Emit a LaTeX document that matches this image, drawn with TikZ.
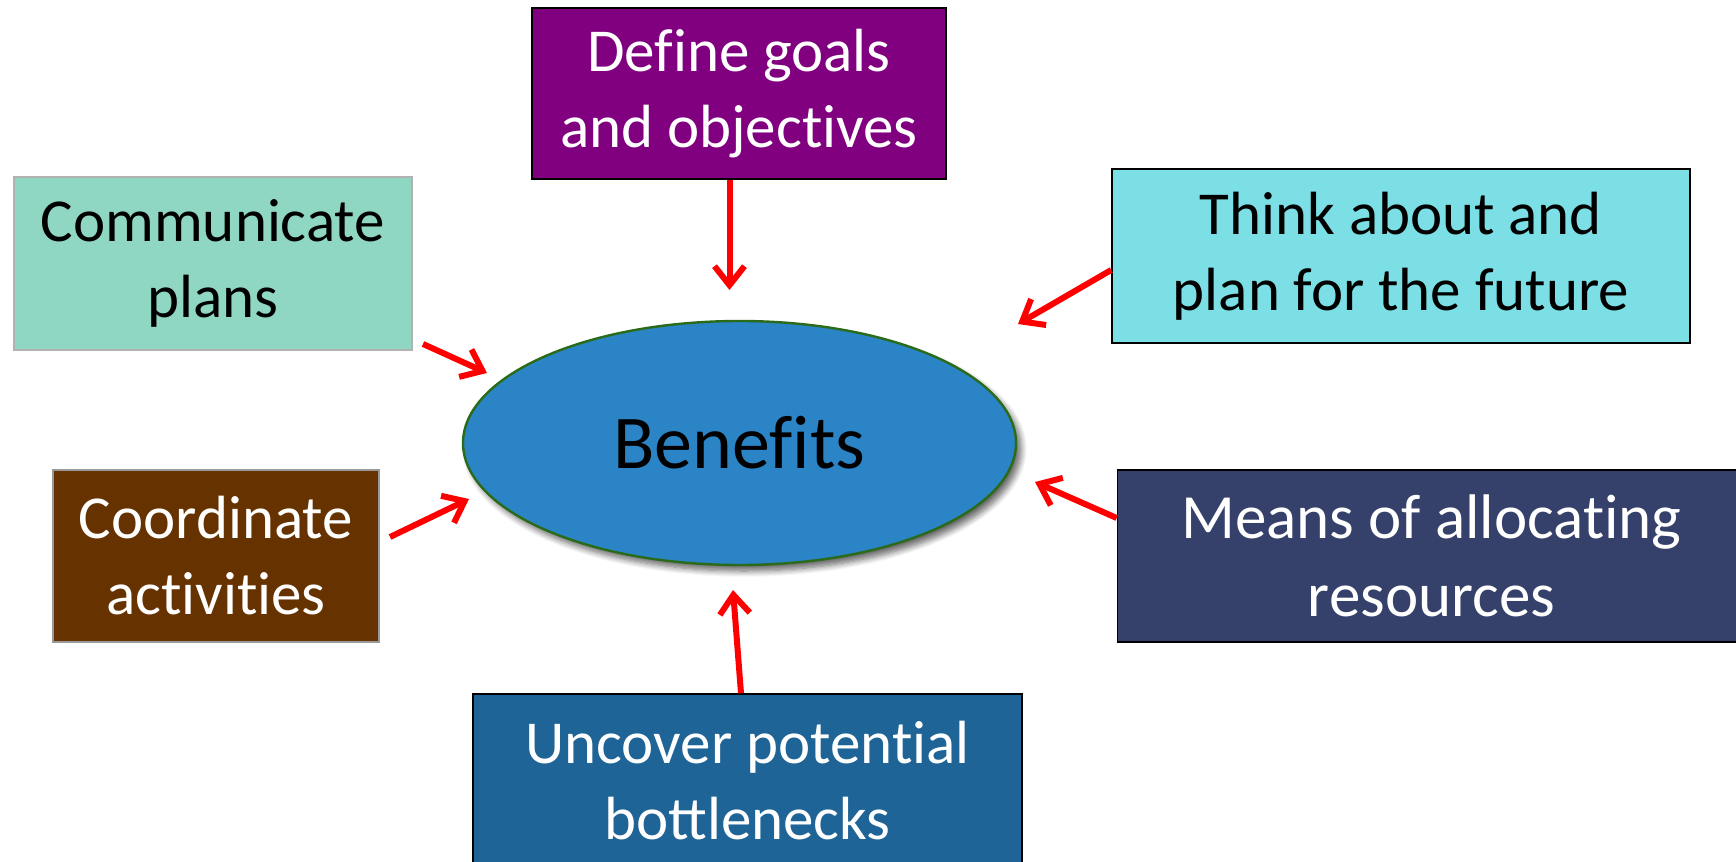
\documentclass[tikz,border=0pt]{standalone}
\usepackage{fontspec}
\setmainfont{Carlito}
\newcommand{\brk}{\kern0pt{}}
\usetikzlibrary{arrows.meta,shadows.blur,calc,shapes.geometric}
\definecolor{cpurple}{HTML}{800080}
\definecolor{cteal}{HTML}{8FD7C3}
\definecolor{ccyan}{HTML}{7BDFE5}
\definecolor{cbrown}{HTML}{663300}
\definecolor{cnavy}{HTML}{35416A}
\definecolor{cblue}{HTML}{1F6496}
\definecolor{cell}{HTML}{2A84C6}
\definecolor{cellb}{HTML}{2A6B1A}
\begin{document}
\begin{tikzpicture}[x=0.5pt,y=-0.5pt,
  box/.style={rectangle, draw=black, line width=0.8pt, align=center, inner sep=0pt,
    font=\fontsize{30.5}{38}\selectfont},
  arr/.style={draw=red, line width=3pt, -{Straight Barb[length=9.5pt,width=15pt,line width=3pt]}}]
\useasboundingbox (0,0) rectangle (1736,862);
% central ellipse
\node[ellipse, fill=cell, draw=cellb, line width=1.2pt, minimum width=276.5pt, minimum height=122pt,
  blur shadow={shadow xshift=2.5pt, shadow yshift=-3pt, shadow blur steps=8, shadow blur radius=3pt, shadow opacity=60},
  font=\fontsize{38}{44}\selectfont] (ben) at (739.5,443) {Benef\brk its};
% boxes
\node[box, fill=cpurple, text=white, minimum width=207pt, minimum height=85.5pt] (def) at (739,93.5) {Def\brk ine goals\\and object\brk ives};
\node[box, fill=cteal, draw=black!30, text=black, minimum width=199pt, minimum height=86.5pt] (com) at (213,263.5) {Communicate\\plans};
\node[box, fill=ccyan, text=black, minimum width=289pt, minimum height=87pt] (thk) at (1401,256) {Think about and\\plan for the future};
\node[box, fill=cbrown, draw=black!40, text=white, minimum width=163pt, minimum height=86pt] (crd) at (216,556) {Coordinate\\act\brk ivit\brk ies};
\node[box, fill=cnavy, text=white, minimum width=314pt, minimum height=86pt, font=\fontsize{31.5}{39}\selectfont] (mns) at (1431.5,556) {Means of allocat\brk ing\\resources};
\node[box, fill=cblue, text=white, minimum width=274.5pt, minimum height=87pt] (unc) at (747.5,781) {Uncover potent\brk ial\\bottlenecks};
% arrow end points
\coordinate (tdef) at (729.5,290);
\coordinate (scom) at (423,344);
\coordinate (tcom) at (487,373);
\coordinate (tthk) at (1018,324);
\coordinate (scrd) at (390,537);
\coordinate (tcrd) at (469,499);
\coordinate (tmns) at (1035,482);
\coordinate (tunc) at (733,590);
% arrows
\draw[arr] (def.south -| tdef) -- (tdef);
\draw[arr] (scom) -- (tcom);
\draw[arr] ($(thk.west)+(0,14)$) -- (tthk);
\draw[arr] (scrd) -- (tcrd);
\draw[arr] ($(mns.west)+(0,-38)$) -- (tmns);
\draw[arr] ($(unc.north)+(-6.5,0)$) -- (tunc);
\end{tikzpicture}
\end{document}
